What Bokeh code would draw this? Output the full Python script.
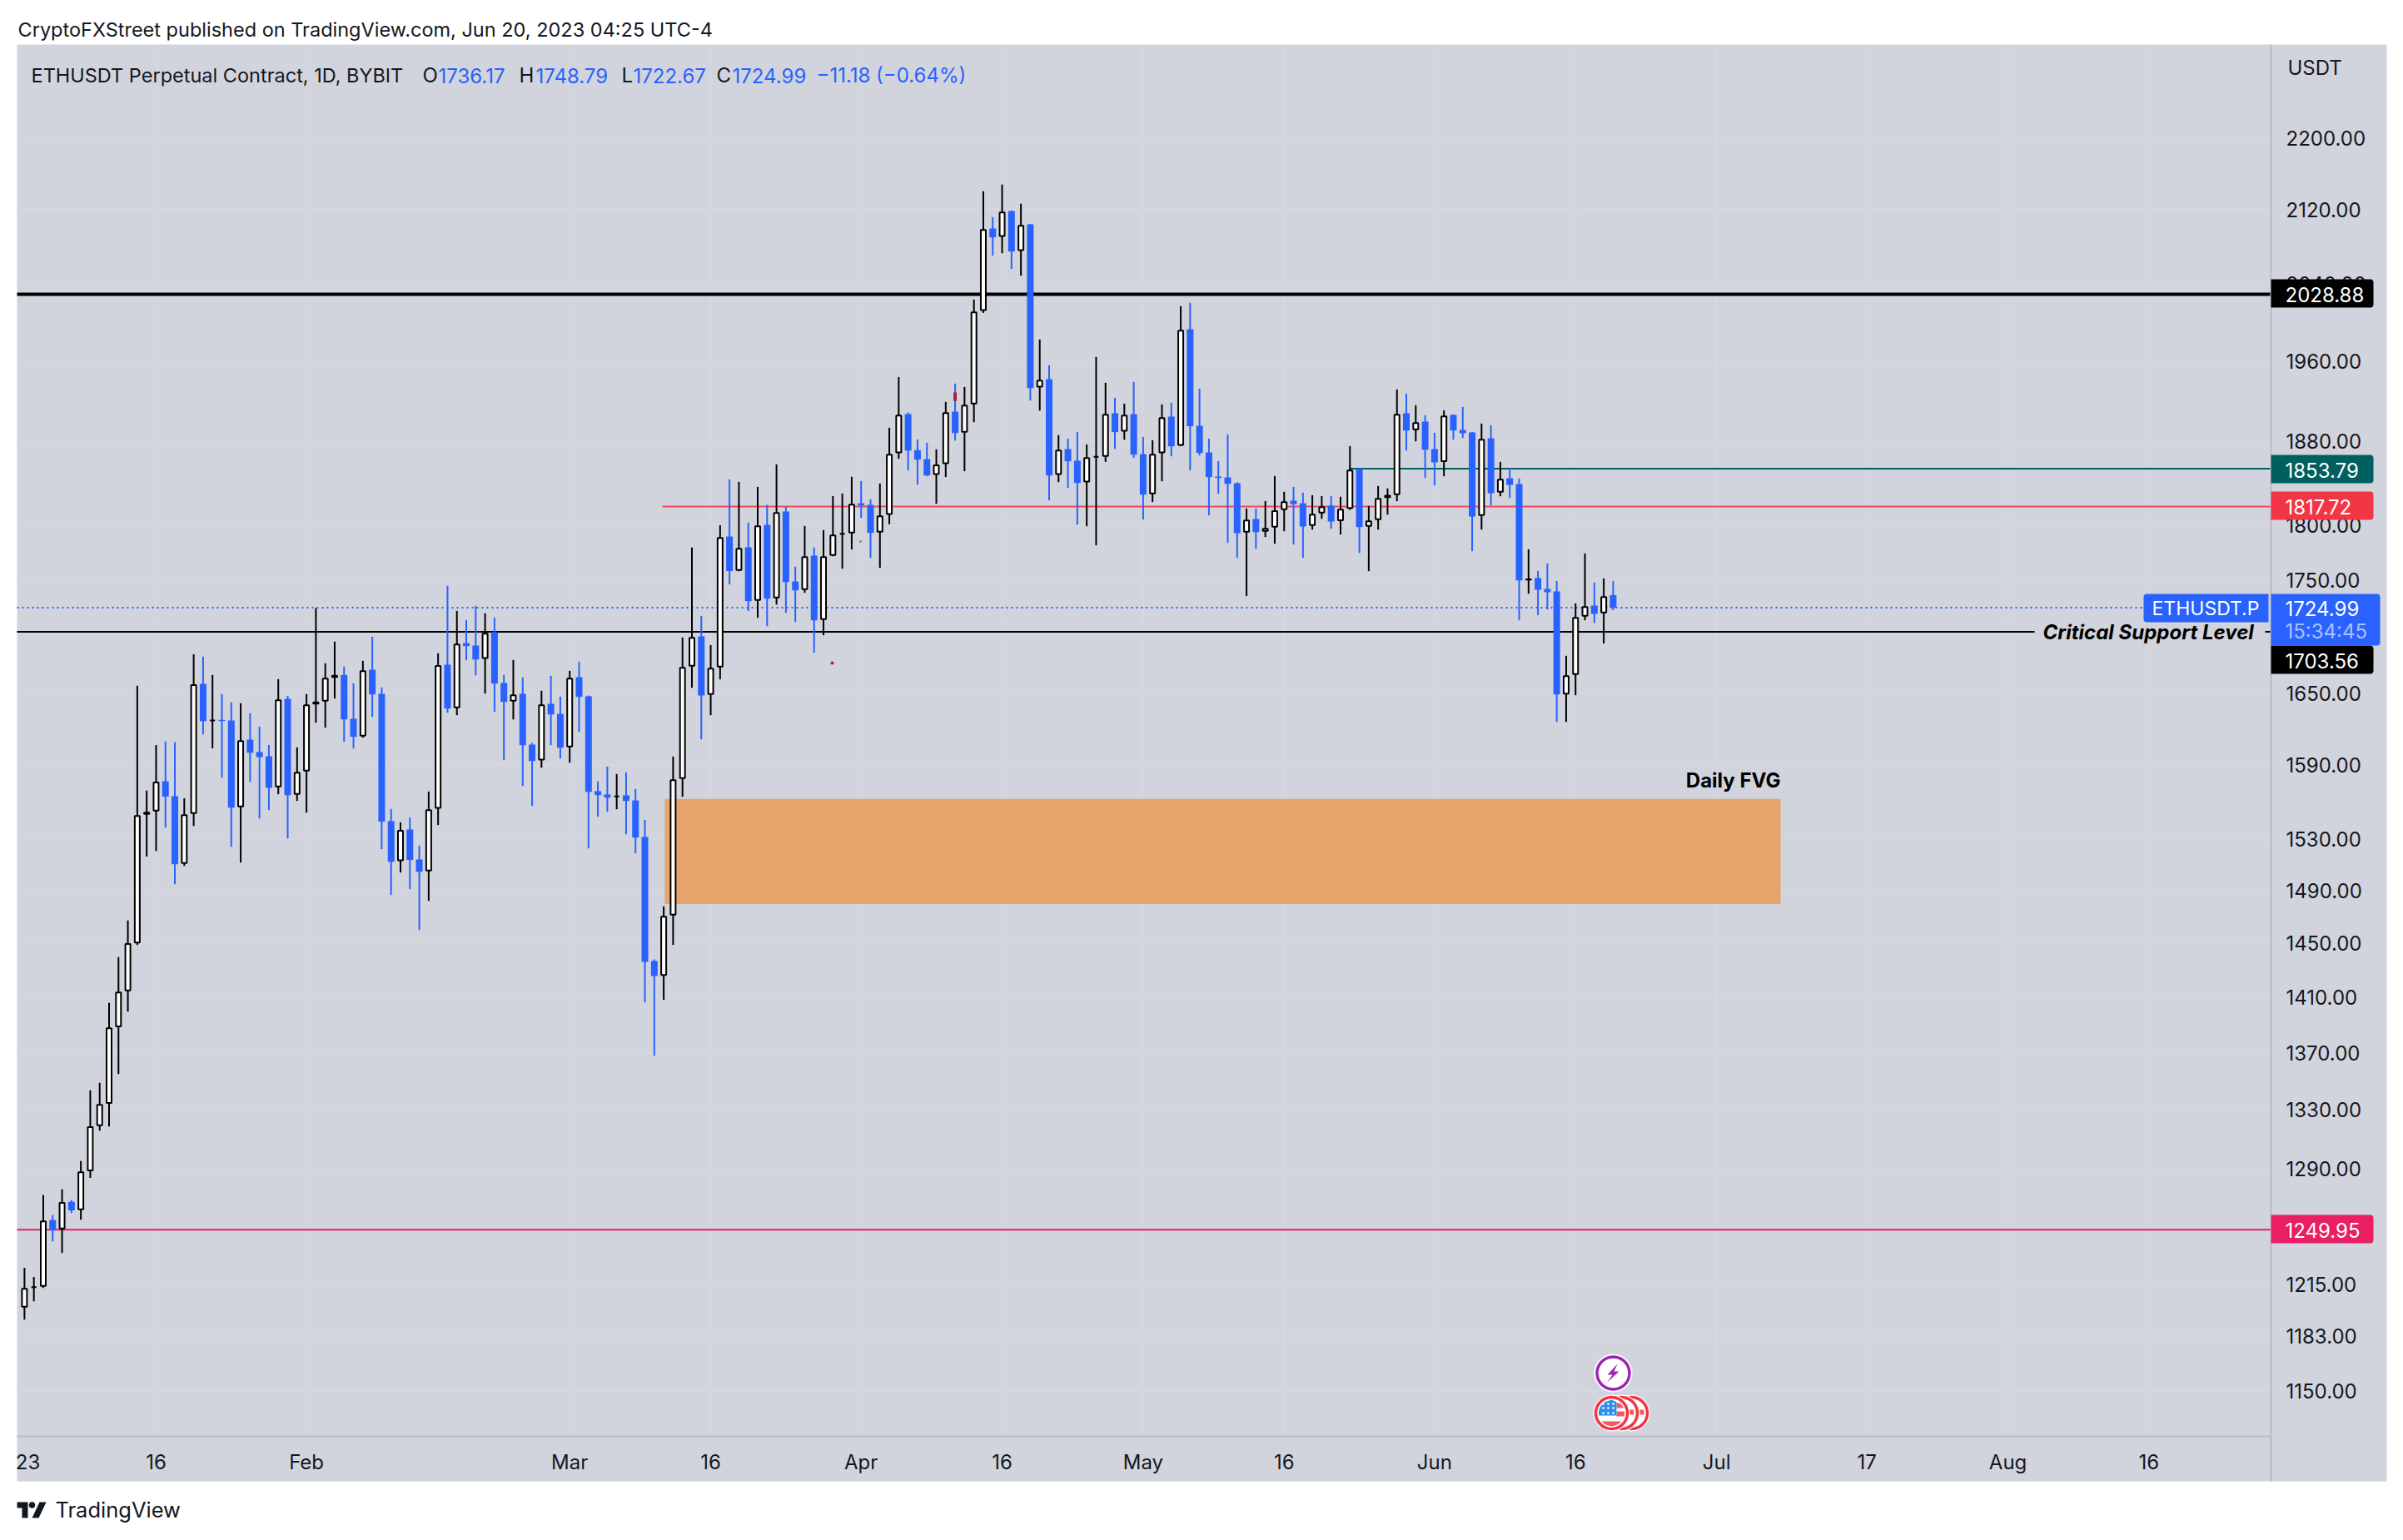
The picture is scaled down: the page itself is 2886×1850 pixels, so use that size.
import datetime as dt
import numpy as np
from bokeh.plotting import figure
from bokeh.models import Range1d, FixedTicker, NumeralTickFormatter, Label, BoxAnnotation, PolyAnnotation, ColumnDataSource
from bokeh.embed import file_html
from bokeh.resources import INLINE

opens=[1201.1,1213.3,1214.1,1256.3,1250.7,1268.1,1263.2,1289.0,1319.4,1334.8,1388.8,1414.8,1450.4,1550.2,1552.9,1576.7,1564.5,1511.3,1550.9,1658.2,
1627.1,1627.6,1627.1,1556.2,1611.0,1600.7,1597.2,1572.4,1645.4,1566.3,1585.3,1641.4,1643.8,1664.2,1665.9,1628.5,1614.3,1670.4,1649.7,1544.4,
1513.4,1537.8,1514.1,1505.4,1555.1,1674.8,1638.1,1693.6,1691.5,1680.6,1703.2,1659.0,1643.8,1649.7,1606.9,1594.5,1641.2,1632.7,1605.3,1664.0,
1647.6,1568.6,1565.9,1564.3,1565.2,1561.1,1531.8,1436.5,1426.2,1471.4,1579.2,1673.8,1699.5,1649.5,1673.1,1789.7,1758.9,1779.7,1731.8,1800.5,
1734.0,1813.0,1748.5,1741.5,1772.1,1714.7,1772.6,1792.3,1793.3,1820.8,1819.3,1794.1,1810.7,1869.3,1906.8,1871.5,1862.9,1848.5,1858.9,1909.2,
1889.3,1917.2,2012.3,2099.2,2091.0,2118.2,2075.8,2103.7,1934.1,1941.6,1848.5,1872.6,1861.3,1841.4,1865.1,1865.9,1907.6,1890.4,1906.8,1867.7,
1830.0,1869.3,1904.3,1876.6,1992.5,1895.3,1869.3,1846.1,1845.3,1839.8,1794.1,1806.0,1794.9,1798.7,1815.1,1823.2,1820.8,1800.3,1812.0,1818.5,
1804.9,1816.4,1853.6,1799.5,1805.7,1826.6,1829.2,1907.6,1891.8,1899.4,1872.6,1861.0,1906.0,1891.2,1888.8,1809.6,1883.1,1831.6,1844.5,1839.0,
1750.3,1751.6,1741.8,1739.5,1649.9,1666.6,1717.7,1726.8,1720.6,1736.17]
highs=[1225.6,1219.8,1272.7,1259.4,1276.3,1269.4,1295.2,1343.5,1348.7,1405.7,1439.4,1467.0,1656.6,1569.0,1606.6,1609.4,1608.7,1562.9,1683.9,1681.8,
1665.9,1649.5,1642.4,1641.7,1633.2,1622.0,1606.6,1662.3,1648.0,1604.6,1649.5,1724.6,1676.0,1694.9,1673.1,1658.7,1678.1,1699.2,1655.2,1554.2,
1543.5,1547.5,1525.0,1568.3,1684.7,1744.5,1722.1,1714.0,1726.6,1719.9,1716.2,1665.9,1678.9,1663.7,1608.3,1652.3,1665.2,1647.3,1669.5,1677.4,
1648.3,1576.5,1588.7,1582.6,1584.0,1570.4,1545.5,1437.8,1477.8,1597.0,1698.5,1779.5,1717.7,1691.9,1800.3,1843.5,1841.1,1802.6,1836.3,1819.3,
1857.8,1817.7,1761.9,1799.5,1779.5,1795.6,1827.6,1830.0,1845.9,1841.9,1824.5,1839.5,1893.4,1943.8,1908.4,1882.0,1878.8,1872.3,1918.9,1937.2,
1933.8,2023.3,2140.0,2111.6,2147.4,2118.9,2126.2,2104.3,1981.9,1955.6,1886.1,1882.8,1889.3,1877.1,1964.1,1938.0,1923.0,1917.2,1938.8,1884.4,
1881.2,1916.4,1918.0,2016.4,2019.9,1932.1,1882.8,1861.0,1886.9,1840.6,1815.9,1815.9,1822.9,1846.7,1831.6,1836.3,1830.8,1828.4,1827.6,1827.6,
1826.9,1875.5,1854.1,1818.2,1837.1,1834.8,1931.3,1927.2,1915.6,1905.7,1888.5,1910.6,1906.8,1913.9,1889.3,1897.5,1895.9,1860.2,1854.6,1844.3,
1777.9,1758.1,1764.9,1749.0,1682.5,1728.8,1774.1,1747.5,1751.3,1748.79]
lows=[1193.1,1204.5,1212.8,1242.5,1235.0,1260.8,1256.5,1283.9,1315.8,1318.6,1354.9,1399.4,1448.5,1516.3,1520.8,1539.3,1494.8,1509.1,1540.6,1615.4,
1603.7,1579.6,1524.1,1511.7,1576.2,1546.6,1553.3,1566.1,1530.7,1560.7,1551.3,1625.2,1621.0,1645.7,1609.2,1603.7,1612.7,1630.1,1522.2,1486.5,
1503.9,1491.0,1459.8,1482.0,1541.3,1633.7,1631.5,1678.6,1665.6,1649.9,1634.4,1594.0,1628.0,1572.8,1556.7,1587.8,1606.4,1595.4,1591.9,1617.5,
1522.8,1548.0,1552.0,1554.0,1534.0,1518.9,1406.1,1367.8,1407.9,1448.5,1564.1,1654.9,1611.3,1631.5,1662.1,1745.8,1757.9,1721.9,1715.9,1708.5,
1727.8,1720.4,1712.2,1738.3,1685.1,1700.5,1771.5,1760.1,1777.7,1807.0,1770.0,1760.9,1801.1,1863.2,1852.0,1838.4,1846.4,1820.3,1845.6,1880.9,
1851.2,1898.8,2009.4,2069.8,2072.5,2055.6,2048.5,1920.2,1910.3,1823.5,1840.8,1835.3,1800.8,1799.2,1781.5,1860.2,1872.8,1881.7,1864.0,1805.5,
1821.9,1841.6,1865.6,1875.5,1852.0,1866.4,1809.4,1829.7,1783.8,1770.0,1735.3,1778.4,1789.2,1783.0,1794.6,1782.3,1770.0,1796.1,1806.2,1796.9,
1791.5,1814.6,1774.6,1757.9,1796.1,1810.1,1822.7,1871.2,1880.1,1844.8,1837.7,1846.4,1881.7,1883.4,1776.1,1796.1,1818.7,1827.4,1825.8,1713.7,
1737.5,1718.2,1723.3,1625.9,1625.9,1648.5,1713.7,1711.3,1693.2,1722.67]
closes=[1212.3,1213.3,1255.4,1249.6,1267.4,1262.5,1287.7,1318.1,1333.5,1387.4,1413.4,1449.2,1548.6,1551.3,1575.6,1564.1,1510.4,1549.3,1657.1,1626.6,
1627.1,1626.6,1555.3,1609.9,1600.2,1596.5,1571.3,1644.2,1565.4,1583.7,1640.0,1642.4,1662.8,1665.2,1628.0,1613.4,1669.2,1649.2,1544.0,1512.3,
1536.7,1513.7,1504.5,1553.3,1673.6,1637.2,1692.4,1691.0,1679.3,1701.9,1658.5,1642.8,1648.5,1606.4,1593.3,1640.0,1632.2,1604.3,1662.8,1647.1,
1568.1,1565.4,1563.4,1564.3,1560.7,1531.4,1435.9,1425.4,1469.9,1577.6,1672.1,1698.3,1648.3,1671.4,1788.4,1757.9,1778.4,1730.8,1799.2,1733.0,
1811.7,1748.0,1740.5,1770.8,1713.7,1770.8,1790.7,1792.3,1819.5,1818.7,1793.1,1808.6,1867.2,1905.4,1871.2,1862.4,1847.2,1856.8,1907.9,1888.2,
1915.3,2010.0,2097.6,2089.5,2116.7,2074.3,2102.2,1932.7,1940.2,1847.2,1871.2,1860.8,1840.0,1864.0,1865.1,1906.2,1889.1,1905.4,1867.2,1829.0,
1867.2,1902.9,1875.3,1991.0,1894.8,1868.8,1845.6,1844.8,1839.2,1792.8,1804.7,1793.8,1796.9,1813.3,1821.9,1820.0,1799.0,1810.1,1817.2,1803.6,
1814.8,1852.0,1798.5,1803.9,1825.0,1827.9,1906.2,1890.7,1898.0,1872.0,1859.7,1904.6,1890.7,1888.0,1808.3,1881.7,1830.3,1843.2,1838.2,1749.5,
1750.5,1741.0,1738.8,1649.2,1664.9,1715.9,1725.6,1719.4,1734.5,1724.99]

price_ticks=[2200,2120,2040,1960,1880,1800,1750,1650,1590,1530,1490,1450,1410,1370,1330,1290,1250,1215,1183,1150]
month_ticks=[("2023-01-02","23"),("2023-01-16","16"),("2023-02-01","Feb"),("2023-03-01","Mar"),("2023-03-16","16"),("2023-04-01","Apr"),
             ("2023-04-16","16"),("2023-05-01","May"),("2023-05-16","16"),("2023-06-01","Jun"),("2023-06-16","16"),("2023-07-01","Jul"),
             ("2023-07-17","17"),("2023-08-01","Aug"),("2023-08-16","16")]
grid_days=["2023-01-16","2023-02-01","2023-03-01","2023-03-16","2023-04-01","2023-04-16","2023-05-01","2023-05-16","2023-06-01","2023-06-16","2023-07-01","2023-07-17","2023-08-01","2023-08-16"]
first_day="2023-01-02"
fvg_top,fvg_bottom=1562.4,1479.5
lvl_res,lvl_green,lvl_red,lvl_pink,lvl_sup,last_price=2028.88,1853.79,1817.72,1249.95,1703.56,1724.99

def day(s): return (dt.date.fromisoformat(s)-dt.date(2023,1,1)).days
days=[day(first_day)+i for i in range(len(opens))]

BG="#d1d4dc"; GRID="#d4d7df"; BLUE="#2962FF"; INK="#131722"; FONT="Inter"
AX="#b8bbc5"

# page-pixel mapping of the pane, for chrome only
X0,PX=17.6,11.29
def d_at(x): return (x-X0)/PX
def p_at(y): return lvl_res*np.exp(-(y-353)/2320)

p=figure(width=2886,height=1850,toolbar_location=None,output_backend="svg",y_axis_type="log",y_axis_location="right",
         x_range=Range1d(d_at(0),d_at(2886)),y_range=Range1d(p_at(1850),p_at(0)),
         min_border=0,background_fill_color="white",border_fill_color="white",outline_line_color=None)
def box(l,r,t,b,c,radius=0):
    p.add_layout(BoxAnnotation(left=l,right=r,top=t,bottom=b,left_units="canvas",right_units="canvas",top_units="canvas",bottom_units="canvas",
        fill_color=c,fill_alpha=1,line_color=None,level="annotation",border_radius=radius))
def poly(xs,ys,c,line=None,lw=0):
    p.add_layout(PolyAnnotation(xs=[float(x) for x in xs],ys=[float(y) for y in ys],xs_units="canvas",ys_units="canvas",fill_color=c,fill_alpha=1,
        line_color=line,line_width=lw,line_alpha=1,level="annotation"))
def txt(s,x,y,size=24,color=INK,align="left",style="normal"):
    p.add_layout(Label(x=x,y=y,x_units="canvas",y_units="canvas",text=s,text_font=FONT,text_font_size=f"{size}px",text_color=color,
        text_align=align,text_baseline="middle",text_font_style=style,level="annotation"))

# chart background and grid, limited to the pane
left,right=d_at(20),d_at(2727)
pane_top,pane_bottom=p_at(53),p_at(1725)
p.quad(left=d_at(20),right=d_at(2866),top=pane_top,bottom=p_at(1779),fill_color=BG,line_color=None,level="image")
p.segment(x0=[left]*len(price_ticks),x1=[right]*len(price_ticks),y0=price_ticks,y1=price_ticks,line_color=GRID,line_width=2,level="image")
gd=[day(s) for s in grid_days]
p.segment(x0=gd,x1=gd,y0=[pane_bottom]*len(gd),y1=[pane_top]*len(gd),line_color=GRID,line_width=2,level="image")
p.grid.visible=False

# axes fixed at the pane edges
p.yaxis.fixed_location=right; p.yaxis.bounds=(float(p_at(1779)),float(pane_top))
p.yaxis.ticker=FixedTicker(ticks=price_ticks); p.yaxis.formatter=NumeralTickFormatter(format="0.00")
p.yaxis.major_label_text_font=FONT; p.yaxis.major_label_text_font_size="24px"; p.yaxis.major_label_text_color=INK
p.yaxis.major_tick_line_color=None; p.yaxis.minor_tick_line_color=None; p.yaxis.major_label_standoff=12
p.yaxis.axis_line_color=AX; p.yaxis.axis_line_width=2
tick_x=[float(d_at(33)) if t=="23" else day(s) for s,t in month_ticks]
p.xaxis.fixed_location=float(pane_bottom); p.xaxis.bounds=(float(left),float(right))
p.xaxis.ticker=FixedTicker(ticks=tick_x)
p.xaxis.major_label_overrides={x:t for x,(s,t) in zip(tick_x,month_ticks)}
p.xaxis.major_label_text_font=FONT; p.xaxis.major_label_text_font_size="24px"; p.xaxis.major_label_text_color=INK
p.xaxis.major_tick_line_color=None; p.xaxis.minor_tick_line_color=None; p.xaxis.major_label_standoff=10
p.xaxis.axis_line_color=AX; p.xaxis.axis_line_width=2

# daily FVG box
p.quad(left=d_at(798),right=d_at(2138),top=fvg_top,bottom=fvg_bottom,fill_color="#e6a36a",line_color=None)

# levels
p.segment(x0=[left],x1=[d_at(2574)],y0=[last_price],y1=[last_price],line_color=BLUE,line_width=2,line_dash="2 4")
p.segment(x0=[left],x1=[right],y0=[lvl_res],y1=[lvl_res],line_color="#000000",line_width=4)
p.segment(x0=[d_at(1620)],x1=[right],y0=[lvl_green],y1=[lvl_green],line_color="#00605f",line_width=2)
p.segment(x0=[d_at(795)],x1=[right],y0=[lvl_red],y1=[lvl_red],line_color="#f4485a",line_width=2)
p.segment(x0=[left],x1=[right],y0=[lvl_pink],y1=[lvl_pink],line_color="#e91e63",line_width=2)
p.segment(x0=[left,d_at(2720)],x1=[d_at(2443),right],y0=[lvl_sup]*2,y1=[lvl_sup]*2,line_color="#000000",line_width=2)

# candles
up=[c>=o for o,c in zip(opens,closes)]
def src(m):
    idx=[i for i,u in enumerate(up) if u==m]
    return ColumnDataSource(dict(x=[days[i] for i in idx],o=[opens[i] for i in idx],h=[highs[i] for i in idx],l=[lows[i] for i in idx],c=[closes[i] for i in idx]))
su,sd=src(True),src(False)
p.segment(x0="x",x1="x",y0="l",y1="h",source=sd,line_color=BLUE,line_width=2)
p.segment(x0="x",x1="x",y0="l",y1="h",source=su,line_color="#000000",line_width=2)
p.vbar(x="x",width=8/PX,top="o",bottom="c",source=sd,fill_color=BLUE,line_color=None)
p.vbar(x="x",width=6/PX,top="c",bottom="o",source=su,fill_color="white",line_color="#000000",line_width=2)

# small drawing remnants
p.scatter(x=[d_at(999)],y=[1676.3],size=4,marker="circle",fill_color="#b01c3c",line_color=None)
p.scatter(x=[d_at(1033)],y=[p_at(650)],size=2,marker="square",fill_color="#555555",line_color=None)
p.segment(x0=[100],x1=[100],y0=[1919.9],y1=[1928.3],line_color="#b01c3c",line_width=4)

# price tags
for y,c,s in [(352,"#000000","2028.88"),(563,"#00605f","1853.79"),(607,"#f23645","1817.72"),(1476,"#e91e63","1249.95"),(792,"#000000","1703.56")]:
    box(2727,2850,y-17,y+17,c,radius=(0,4,4,0))
    txt(s,2744,y+1,color="white")
box(2727,2858,713,775,BLUE,radius=(0,4,4,0))
txt("1724.99",2744,730,color="white")
txt("15:34:45",2744,758,color="#a9c0ff")
box(2574,2724,713,747,BLUE,radius=(4,0,0,4))
txt("ETHUSDT.P",2584,730,size=23,color="white")
txt("Critical Support Level",2453,759,style="bold italic",color="#000000")
txt("Daily FVG",2138,937,size=24,style="bold",align="right",color="#000000")
txt("USDT",2747,81)

# header texts
txt("CryptoFXStreet published on TradingView.com, Jun 20, 2023 04:25 UTC-4",21,35,size=23.5)
txt("ETHUSDT Perpetual Contract, 1D, BYBIT",37,90,size=23.5)
for s,x,c in [("O",507,INK),("1736.17",526,BLUE),("H",623,INK),("1748.79",643,BLUE),("L",746,INK),("1722.67",760,BLUE),("C",860,INK),("1724.99",879,BLUE),("\u221211.18 (\u22120.64%)",980,BLUE)]:
    txt(s,x,90,color=c)

# footer
txt("TradingView",66,1813,size=25.5,color="#131722")
poly([20,33,33,26,26,20],[1804,1804,1823,1823,1811,1811],INK)
th=np.linspace(0,2*np.pi,40)
poly(38+3.8*np.cos(th),1807.5+3.8*np.sin(th),INK)
poly([47,55,46,38],[1804,1804,1823,1823],INK)

# event icons
def disc(cx,cy,r,c,line=None,lw=0):
    poly(cx+r*np.cos(th),cy+r*np.sin(th),c,line,lw)
def band(cx,cy,r,y1,y2,c,xmin=None,xmax=None):
    ys=np.linspace(y1,y2,8)
    w=np.sqrt(np.maximum(r*r-(ys-cy)**2,0))
    xr,xl=cx+w,cx-w
    if xmin is not None: xl=np.maximum(xl,xmin)
    if xmax is not None: xr=np.minimum(xr,xmax)
    poly(list(xr)+list(xl[::-1]),list(ys)+list(ys[::-1]),c)
RED="#f23645"; FL="#f55a5a"
cy=1697
for cx in (1959,1947):
    disc(cx,cy,22,"white")
    disc(cx,cy,19,"white",RED,3.5)
    band(cx,cy,15,1693,1699,FL,xmin=cx+4)
disc(1935,cy,22,"white")
disc(1935,cy,19,"white",RED,3.5)
band(1935,cy,15.5,1685,1691,FL,xmin=1941)
band(1935,cy,15.5,1695,1701,FL,xmin=1941)
band(1935,cy,15.5,1707,1713,FL)
band(1935,cy,15.5,1681,1700,"#2f8fe8",xmax=1941)
for sx in (1926,1932,1938):
    for sy in (1686,1691,1697):
        disc(sx-1,sy,1.3,"white")
disc(1937,1649,23,"white")
disc(1937,1649,19.5,"white","#9c27b0",3.5)
poly([1942,1930,1936,1930,1944,1938],[1638,1651,1651,1660,1647,1647],"#9c27b0")

open("out.html","w").write(file_html(p,INLINE))
